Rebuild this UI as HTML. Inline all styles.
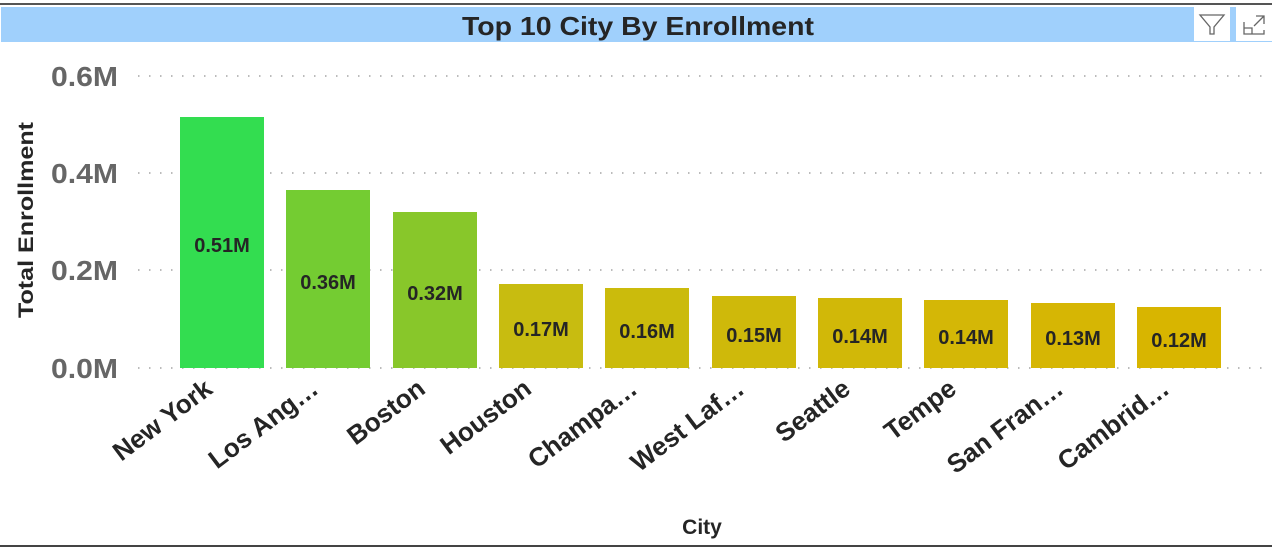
<!DOCTYPE html>
<html><head><meta charset="utf-8"><style>
html,body{margin:0;padding:0;background:#fff;}
svg{display:block;font-family:"Liberation Sans","DejaVu Sans",sans-serif;}
</style></head><body>
<svg width="1272" height="549" viewBox="0 0 1272 549" xmlns="http://www.w3.org/2000/svg">
<rect x="0" y="0" width="1272" height="549" fill="#fff"/>
<rect x="0" y="3" width="1272" height="2" fill="#555"/>
<rect x="0" y="545" width="1272" height="2" fill="#444"/>
<rect x="1" y="7" width="1271" height="35" fill="#a0d0fc"/>
<text x="638" y="35" text-anchor="middle" font-size="26" font-weight="bold" fill="#252525" textLength="352" lengthAdjust="spacingAndGlyphs">Top 10 City By Enrollment</text>
<rect x="1194" y="7" width="36" height="34" fill="#fff"/>
<rect x="1236" y="7" width="36" height="34" fill="#fff"/>
<path d="M1200 15 L1224 15 L1214 27 L1214 34 L1210 34 L1210 27 Z" fill="none" stroke="#666" stroke-width="1.3"/>
<path d="M1244 22 L1244 34 L1264 34 L1264 30 M1244 28 L1252 28 L1252 34 M1256 16 L1264 16 L1264 24 M1264 16 L1254 26" fill="none" stroke="#666" stroke-width="1.3"/>
<g stroke="#bbb" stroke-width="2" stroke-dasharray="1.5,9.5" fill="none">
<line x1="138" y1="76" x2="1262" y2="76"/>
<line x1="138" y1="173" x2="1262" y2="173"/>
<line x1="138" y1="270" x2="1262" y2="270"/>
<line x1="138" y1="368" x2="1262" y2="368"/>
</g>
<g font-size="28" font-weight="bold" fill="#666" text-anchor="end">
<text x="118" y="86" textLength="67" lengthAdjust="spacingAndGlyphs">0.6M</text>
<text x="118" y="183" textLength="67" lengthAdjust="spacingAndGlyphs">0.4M</text>
<text x="118" y="280" textLength="67" lengthAdjust="spacingAndGlyphs">0.2M</text>
<text x="118" y="378" textLength="67" lengthAdjust="spacingAndGlyphs">0.0M</text>
</g>
<text transform="translate(33,220) rotate(-90)" text-anchor="middle" font-size="21" font-weight="bold" fill="#252525" textLength="196" lengthAdjust="spacingAndGlyphs">Total Enrollment</text>
<text x="702" y="534" text-anchor="middle" font-size="21" font-weight="bold" fill="#252525">City</text>
<g>
<rect x="180" y="117" width="84" height="251" fill="#33dd50"/>
<rect x="286" y="190" width="84" height="178" fill="#74cc32"/>
<rect x="393" y="212" width="84" height="156" fill="#88c72a"/>
<rect x="499" y="284" width="84" height="84" fill="#c8bc10"/>
<rect x="605" y="288" width="84" height="80" fill="#cbbb0c"/>
<rect x="712" y="296" width="84" height="72" fill="#cfb90a"/>
<rect x="818" y="298" width="84" height="70" fill="#d1b808"/>
<rect x="924" y="300" width="84" height="68" fill="#d4b706"/>
<rect x="1031" y="303" width="84" height="65" fill="#d6b604"/>
<rect x="1137" y="307" width="84" height="61" fill="#d8b500"/>
</g>
<g font-size="20" font-weight="bold" fill="#252525" text-anchor="middle">
<text x="222" y="252">0.51M</text>
<text x="328" y="289">0.36M</text>
<text x="435" y="300">0.32M</text>
<text x="541" y="336">0.17M</text>
<text x="647" y="338">0.16M</text>
<text x="754" y="342">0.15M</text>
<text x="860" y="343">0.14M</text>
<text x="966" y="344">0.14M</text>
<text x="1073" y="345">0.13M</text>
<text x="1179" y="347">0.12M</text>
</g>
<g font-size="26" font-weight="bold" fill="#252525" text-anchor="end">
<text transform="translate(214,392) rotate(-37)">New York</text>
<text transform="translate(320,392) rotate(-37)">Los Ang…</text>
<text transform="translate(427,392) rotate(-37)">Boston</text>
<text transform="translate(533,392) rotate(-37)">Houston</text>
<text transform="translate(639,392) rotate(-37)">Champa…</text>
<text transform="translate(746,392) rotate(-37)">West Laf…</text>
<text transform="translate(852,392) rotate(-37)">Seattle</text>
<text transform="translate(958,392) rotate(-37)">Tempe</text>
<text transform="translate(1065,392) rotate(-37)">San Fran…</text>
<text transform="translate(1171,392) rotate(-37)">Cambrid…</text>
</g>
</svg>
</body></html>
